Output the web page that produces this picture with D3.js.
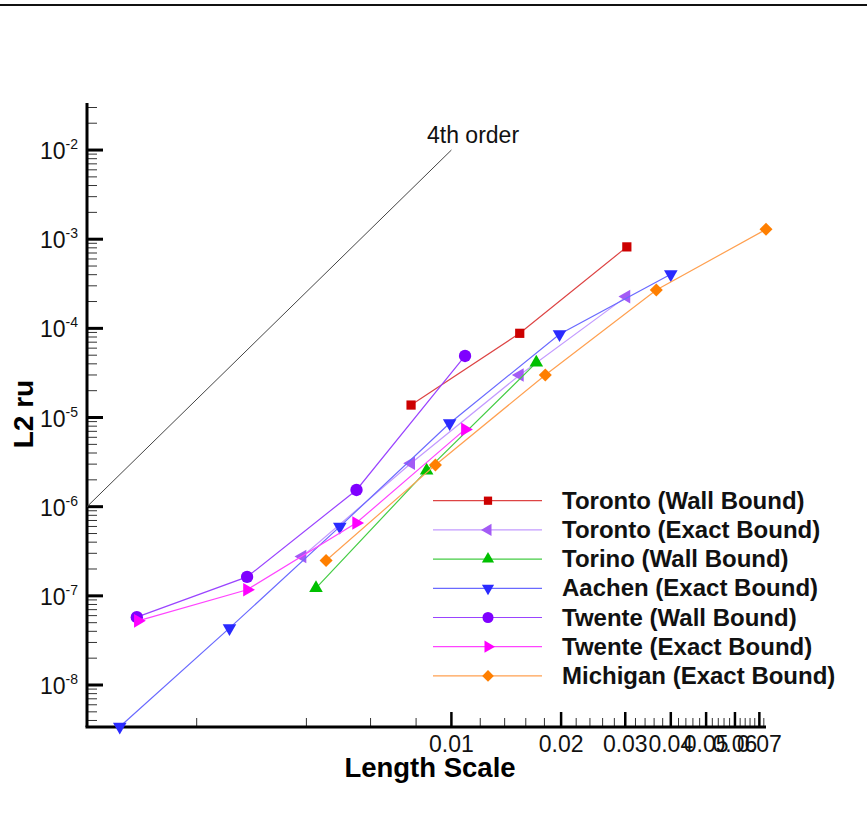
<!DOCTYPE html>
<html>
<head>
<meta charset="utf-8">
<script src="https://cdn.jsdelivr.net/npm/d3@7"></script>
<style>
  body { margin: 0; background: #fff; }
  text { font-family: "Liberation Sans", Arial, sans-serif; }
</style>
</head>
<body>
<div id="chart"></div>
<script>
// data
var seriesNames = ["Toronto (Wall Bound)", "Toronto (Exact Bound)", "Torino (Wall Bound)",
  "Aachen (Exact Bound)", "Twente (Wall Bound)", "Twente (Exact Bound)", "Michigan (Exact Bound)"];

var torontoWallX = [0.00775, 0.0154, 0.0303];
var torontoWallY = [1.38e-5, 8.8e-5, 8.2e-4];

var torontoExactX = [0.0039, 0.00775, 0.0154, 0.0302];
var torontoExactY = [2.76e-7, 3.07e-6, 3.0e-5, 2.27e-4];

var torinoWallX = [0.00425, 0.00855, 0.0171];
var torinoWallY = [1.22e-7, 2.54e-6, 4.12e-5];

var aachenExactX = [0.00123, 0.00246, 0.00494, 0.00989, 0.0198, 0.040];
var aachenExactY = [3.4e-9, 4.34e-8, 5.98e-7, 8.63e-6, 8.59e-5, 4.04e-4];

var twenteWallX = [0.00137, 0.00275, 0.00549, 0.0109];
var twenteWallY = [5.77e-8, 1.63e-7, 1.54e-6, 4.9e-5];

var twenteExactX = [0.00138, 0.00275, 0.00548, 0.0109];
var twenteExactY = [5.24e-8, 1.17e-7, 6.55e-7, 7.36e-6];

var michiganExactX = [0.00453, 0.00904, 0.0181, 0.0365, 0.0730];
var michiganExactY = [2.49e-7, 2.94e-6, 3.0e-5, 2.69e-4, 1.29e-3];

var orderLineX = [0.001, 0.01];
var orderLineY = [1e-6, 1e-2];

var xTickLabels = [0.01, 0.02, 0.03, 0.04, 0.05, 0.06, 0.07];
var yTickExps = [-8, -7, -6, -5, -4, -3, -2];

var width = 867, height = 813;
var margin = {top: 103, right: 101, bottom: 86, left: 87};

var svg = d3.select("#chart")
  .append("svg")
    .attr("width", width)
    .attr("height", height);

// rule across the top
svg.append("line")
    .attr("x1", 0).attr("x2", width)
    .attr("y1", 5).attr("y2", 5)
    .attr("stroke", "#111")
    .attr("stroke-width", 2);

var x = d3.scaleLog()
    .domain([0.001, 0.073])
    .range([margin.left, width - margin.right]);

var y = d3.scaleLog()
    .domain([3.38e-9, 0.0337])
    .range([height - margin.bottom, margin.top]);

var x0 = x.range()[0], y0 = y.range()[0];

// minor ticks, x
var xMinor = [0.002, 0.004, 0.006, 0.008];
for (var v = 12; v < 73; v += 2) {
  if (v % 10 != 0) xMinor.push(v / 1000);
}
svg.selectAll(".xminor")
  .data(xMinor)
  .enter().append("line")
    .attr("class", "xminor")
    .attr("x1", function(d) { return x(d); })
    .attr("x2", function(d) { return x(d); })
    .attr("y1", y0).attr("y2", y0 - 9)
    .attr("stroke", "#333")
    .attr("stroke-width", 1);

svg.selectAll(".xmajor")
  .data(xTickLabels)
  .enter().append("line")
    .attr("class", "xmajor")
    .attr("x1", function(d) { return x(d); })
    .attr("x2", function(d) { return x(d); })
    .attr("y1", y0).attr("y2", y0 - 15)
    .attr("stroke", "#000")
    .attr("stroke-width", 2.5);

svg.selectAll(".xlabel")
  .data(xTickLabels)
  .enter().append("text")
    .attr("class", "xlabel")
    .attr("x", function(d) { return x(d); })
    .attr("y", 752)
    .attr("text-anchor", "middle")
    .attr("font-size", 23)
    .attr("fill", "#111")
    .text(function(d) { return d3.format(".2f")(d); });

// minor ticks, y
var yMinor = [];
for (var e = -9; e <= -2; e++) {
  for (var m = 2; m <= 9; m++) {
    var val = m * Math.pow(10, e);
    if (val > y.domain()[0] && val < y.domain()[1]) yMinor.push(val);
  }
}
svg.selectAll(".yminor")
  .data(yMinor)
  .enter().append("line")
    .attr("class", "yminor")
    .attr("x1", x0).attr("x2", x0 + 10)
    .attr("y1", function(d) { return y(d); })
    .attr("y2", function(d) { return y(d); })
    .attr("stroke", "#333")
    .attr("stroke-width", 1);

svg.selectAll(".ymajor")
  .data(yTickExps)
  .enter().append("line")
    .attr("class", "ymajor")
    .attr("x1", x0).attr("x2", x0 + 16)
    .attr("y1", function(d) { return y(Math.pow(10, d)); })
    .attr("y2", function(d) { return y(Math.pow(10, d)); })
    .attr("stroke", "#000")
    .attr("stroke-width", 3);

var ylab = svg.selectAll(".ylabel")
  .data(yTickExps)
  .enter().append("text")
    .attr("class", "ylabel")
    .attr("x", 78)
    .attr("y", function(d) { return y(Math.pow(10, d)) + 9; })
    .attr("text-anchor", "end")
    .attr("fill", "#111");
ylab.append("tspan").attr("font-size", 23).text("10");
ylab.append("tspan").attr("font-size", 14).attr("dy", -10)
    .text(function(d) { return d; });

// axis lines
svg.append("line")
    .attr("x1", x0 - 1.5).attr("x2", x.range()[1])
    .attr("y1", y0).attr("y2", y0)
    .attr("stroke", "#000").attr("stroke-width", 3);
svg.append("line")
    .attr("x1", x0).attr("x2", x0)
    .attr("y1", y0).attr("y2", y.range()[1])
    .attr("stroke", "#000").attr("stroke-width", 3);

// titles
svg.append("text")
    .attr("x", 430)
    .attr("y", 777)
    .attr("text-anchor", "middle")
    .attr("font-size", 27.5)
    .attr("font-weight", "bold")
    .text("Length Scale");

svg.append("text")
    .attr("transform", "translate(33,414) rotate(-90)")
    .attr("text-anchor", "middle")
    .attr("font-size", 28)
    .attr("font-weight", "bold")
    .text("L2 ru");

// 4th order reference
svg.append("line")
    .attr("x1", x(orderLineX[0])).attr("y1", y(orderLineY[0]))
    .attr("x2", x(orderLineX[1])).attr("y2", y(orderLineY[1]))
    .attr("stroke", "#444")
    .attr("stroke-width", 1);
svg.append("text")
    .attr("x", 427)
    .attr("y", 143)
    .attr("font-size", 23)
    .attr("fill", "#111")
    .text("4th order");

// series
var series = [
  {xs: torontoWallX, ys: torontoWallY, color: "#cc0000", line: "#dd4444", shape: d3.symbolSquare, size: 85, rot: 0},
  {xs: torontoExactX, ys: torontoExactY, color: "#a35bf5", line: "#c39bff", shape: d3.symbolTriangle, size: 80, rot: -90},
  {xs: torinoWallX, ys: torinoWallY, color: "#00c000", line: "#44cc44", shape: d3.symbolTriangle, size: 80, rot: 0},
  {xs: aachenExactX, ys: aachenExactY, color: "#2a2aff", line: "#6a6aff", shape: d3.symbolTriangle, size: 80, rot: 180},
  {xs: twenteWallX, ys: twenteWallY, color: "#7f00ff", line: "#9a44ff", shape: d3.symbolCircle, size: 120, rot: 0},
  {xs: twenteExactX, ys: twenteExactY, color: "#ff00ff", line: "#ff44ff", shape: d3.symbolTriangle, size: 80, rot: 90},
  {xs: michiganExactX, ys: michiganExactY, color: "#ff7f00", line: "#ffa050", shape: d3.symbolSquare, size: 85, rot: 45}
];

var line = d3.line()
    .x(function(d) { return x(d[0]); })
    .y(function(d) { return y(d[1]); });

series.forEach(function(s) {
  var pts = d3.zip(s.xs, s.ys);
  svg.append("path")
      .datum(pts)
      .attr("fill", "none")
      .attr("stroke", s.line)
      .attr("stroke-width", 1.2)
      .attr("d", line);
  svg.selectAll(null)
    .data(pts)
    .enter().append("path")
      .attr("d", d3.symbol().type(s.shape).size(s.size))
      .attr("transform", function(d) {
        return "translate(" + x(d[0]) + "," + y(d[1]) + ") rotate(" + s.rot + ")";
      })
      .attr("fill", s.color);
});

// legend
var legend = svg.append("g");
series.forEach(function(s, i) {
  var ly = 500.7 + i * 29.2;
  legend.append("line")
      .attr("x1", 433).attr("x2", 542)
      .attr("y1", ly).attr("y2", ly)
      .attr("stroke", s.line)
      .attr("stroke-width", 1.2);
  legend.append("path")
      .attr("d", d3.symbol().type(s.shape).size(s.size * 0.8))
      .attr("transform", "translate(488," + ly + ") rotate(" + s.rot + ")")
      .attr("fill", s.color);
  legend.append("text")
      .attr("x", 562)
      .attr("y", ly + 8)
      .attr("font-size", 24)
      .attr("font-weight", "bold")
      .attr("fill", "#111")
      .text(seriesNames[i]);
});
</script>
</body>
</html>
